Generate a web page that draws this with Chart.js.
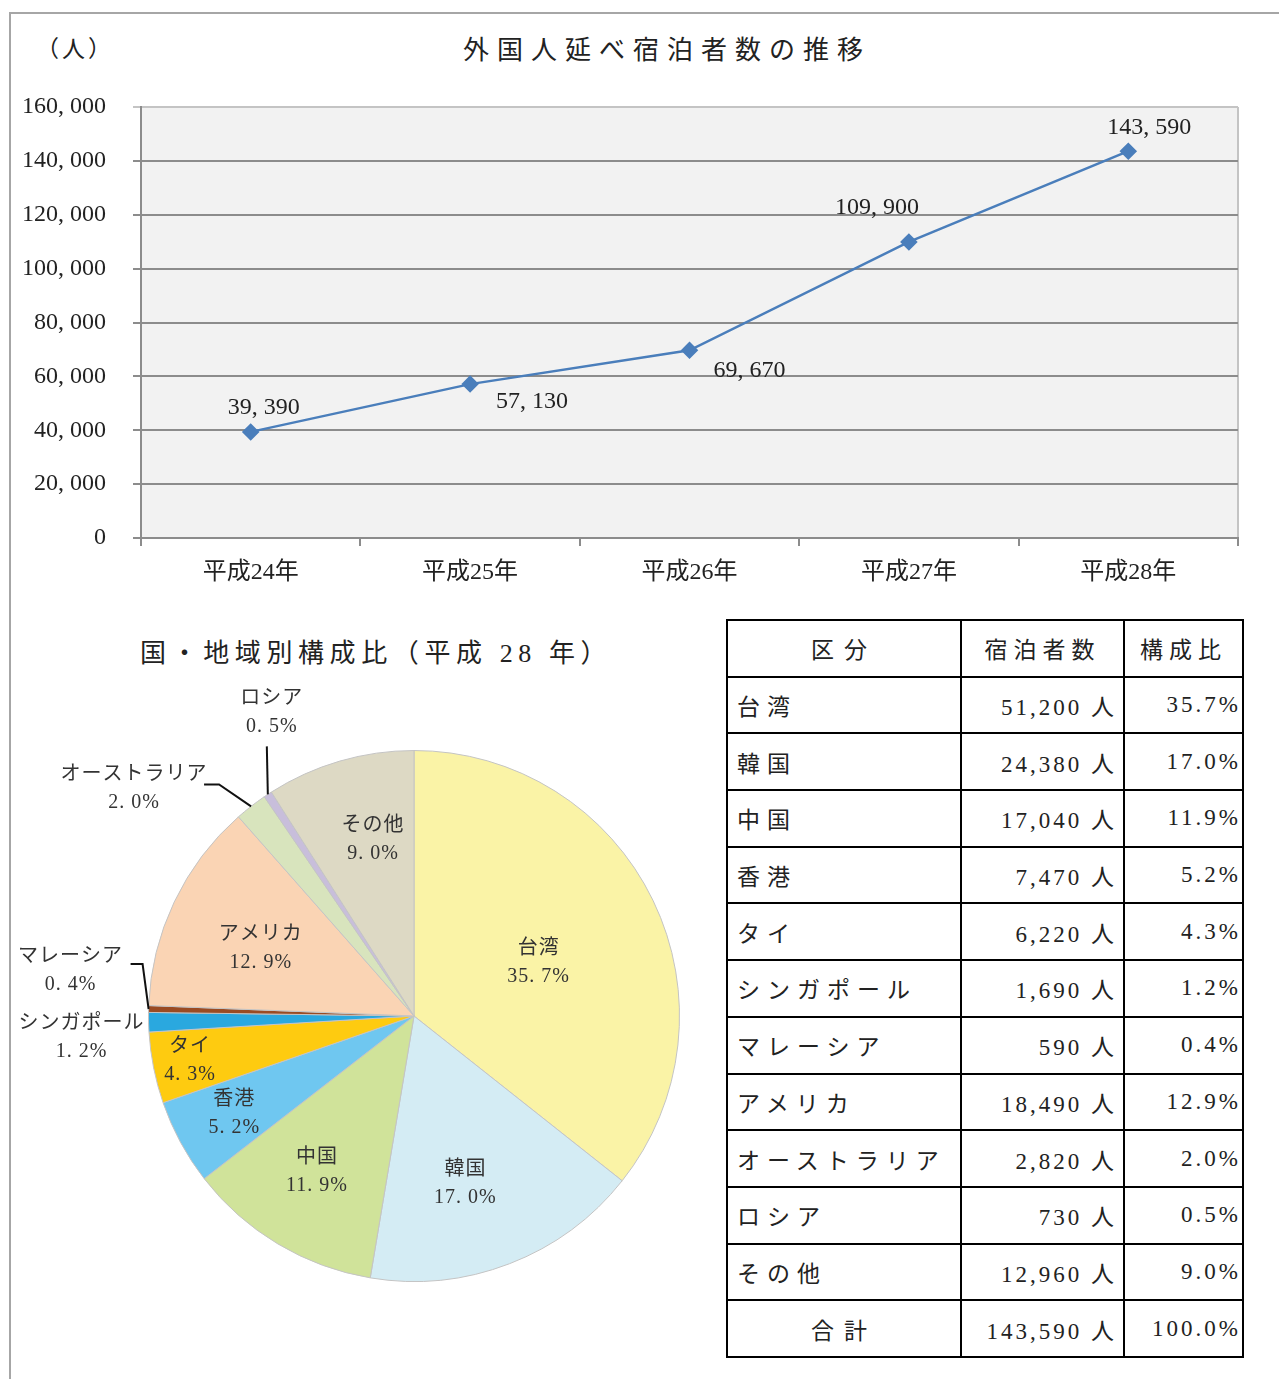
<!DOCTYPE html>
<html lang="ja">
<head>
<meta charset="utf-8">
<script src="https://cdn.jsdelivr.net/npm/chart.js@4.4.1/dist/chart.umd.min.js"></script>
<style>
  body { margin: 0; background: #fff; }
  #page {
    position: relative; width: 1279px; height: 1379px; overflow: hidden;
    font-family: 'Liberation Serif', 'Noto Sans CJK JP', serif; color: #222;
  }
  #frame {
    position: absolute; left: 9px; top: 12px; right: -4px; bottom: -4px;
    border-top: 2px solid #a6a6a6; border-left: 2px solid #a6a6a6;
  }
  .txt { position: absolute; white-space: nowrap; line-height: 1; }
  #lineTitle { left: 463px; top: 38px; font-size: 26px; letter-spacing: 8px; }
  #unit { left: 36px; top: 38px; font-size: 23px; letter-spacing: 3px; }
  #pieTitle { left: 140px; top: 641px; font-size: 26px; letter-spacing: 5.6px; }
  canvas { position: absolute; }
  #lineChart { left: 0; top: 0; }
  #pieChart { left: 0; top: 620px; }
  table {
    position: absolute; left: 726px; top: 619px; width: 516px;
    border-collapse: collapse; table-layout: fixed; font-size: 23px;
  }
  td { border: 2px solid #000; padding: 0; height: 54.7px; color: #222; }
  td.name { padding-left: 9px; letter-spacing: 7px; }
  td.num { text-align: right; padding-right: 6px; letter-spacing: 3px; }
  td.pct { text-align: right; padding-right: 1px; letter-spacing: 3px; }
  td.head { text-align: center; letter-spacing: 6px; }
</style>
</head>
<body>
<div id="page">
  <div id="frame"></div>
  <div class="txt" id="unit">（人）</div>
  <div class="txt" id="lineTitle">外国人延べ宿泊者数の推移</div>
  <canvas id="lineChart" width="1279" height="600"></canvas>
  <div class="txt" id="pieTitle">国・地域別構成比（平成 28 年）</div>
  <canvas id="pieChart" width="720" height="759"></canvas>
  <table id="shareTable"></table>
</div>
<script>
// --- line chart data ---
const years = ['平成24年', '平成25年', '平成26年', '平成27年', '平成28年'];
const guests = [39390, 57130, 69670, 109900, 143590];
const yTicks = [0, 20000, 40000, 60000, 80000, 100000, 120000, 140000, 160000];

// --- pie / table data (平成28年) ---
const regions = ['台湾', '韓国', '中国', '香港', 'タイ', 'シンガポール', 'マレーシア', 'アメリカ', 'オーストラリア', 'ロシア', 'その他'];
const regionGuests = [51200, 24380, 17040, 7470, 6220, 1690, 590, 18490, 2820, 730, 12960];
const regionShares = ['35.7%', '17.0%', '11.9%', '5.2%', '4.3%', '1.2%', '0.4%', '12.9%', '2.0%', '0.5%', '9.0%'];
const totalGuests = 143590;
const totalShare = '100.0%';

const sliceColors = ['#faf3a6', '#d4ecf4', '#d0e39a', '#6fc7f0', '#fecb10', '#2aa8df', '#9a4b23', '#fad4b4', '#d8e4bd', '#c8bedb', '#ddd9c4'];

const numFont = "'Liberation Serif', 'Noto Sans CJK JP', serif";
const fmt = v => v.toLocaleString('en-US').replace(/,/g, ', ');

// line chart: plot background, right border, point labels
const labelOffsets = [[13, -24], [62, 18], [60, 20], [-32, -34], [21, -24]];
const linePlugin = {
  id: 'linePlugin',
  beforeDraw(chart) {
    const a = chart.chartArea, ctx = chart.ctx;
    ctx.save();
    ctx.fillStyle = '#f2f2f2';
    ctx.fillRect(a.left, a.top, a.right - a.left, a.bottom - a.top);
    ctx.strokeStyle = '#c4c4c4';
    ctx.lineWidth = 2;
    ctx.beginPath();
    ctx.moveTo(a.right, a.top);
    ctx.lineTo(a.right, a.bottom);
    ctx.stroke();
    ctx.restore();
  },
  afterDatasetsDraw(chart) {
    const ctx = chart.ctx;
    const meta = chart.getDatasetMeta(0);
    ctx.save();
    ctx.font = '24px ' + numFont;
    ctx.fillStyle = '#222';
    ctx.textAlign = 'center';
    ctx.textBaseline = 'middle';
    meta.data.forEach((pt, i) => {
      const off = labelOffsets[i];
      ctx.fillText(fmt(guests[i]), pt.x + off[0], pt.y + off[1]);
    });
    ctx.restore();
  }
};

new Chart(document.getElementById('lineChart'), {
  type: 'line',
  data: {
    labels: years,
    datasets: [{
      data: guests,
      borderColor: '#4a7ebb',
      backgroundColor: '#4a7ebb',
      borderWidth: 2.5,
      pointStyle: 'rectRot',
      pointRadius: 7,
      pointHoverRadius: 7,
      tension: 0
    }]
  },
  options: {
    responsive: false,
    animation: false,
    devicePixelRatio: 1,
    layout: { padding: { left: 0, right: 41, top: 107, bottom: 0 } },
    plugins: { legend: { display: false }, tooltip: { enabled: false } },
    scales: {
      x: {
        offset: true,
        afterFit: s => { s.height = 62; },
        grid: { offset: true, drawOnChartArea: false, drawTicks: true, tickLength: 8, color: '#8c8c8c', lineWidth: 2 },
        border: { display: true, color: '#8c8c8c', width: 2 },
        ticks: { font: { size: 24, family: numFont }, color: '#222', padding: 12 }
      },
      y: {
        min: 0, max: 160000,
        afterFit: s => { s.width = 141; },
        afterBuildTicks: s => { s.ticks = yTicks.map(v => ({ value: v })); },
        grid: {
          color: c => c.tick && c.tick.value === 160000 ? '#c4c4c4' : '#8c8c8c',
          lineWidth: 2, tickLength: 8
        },
        border: { display: true, color: '#8c8c8c', width: 2 },
        ticks: { font: { size: 24, family: numFont }, color: '#222', padding: 27, callback: v => fmt(v) }
      }
    }
  },
  plugins: [linePlugin]
});

// pie chart: labels inside (radius fraction, angle nudge) or outside with leader lines
const insideLabel = [[0.51, 0.05], [0.66, 0.07], [0.69, 0.02], [0.77, 0], [0.86, 0], null, null, [0.63, -0.03], null, null, [0.68, 0.055]];
const callouts = {
  5: { dx: -67, dy: 16, line: [] },
  6: { dx: -78, dy: -38, line: [[-6, -45], [-18, -45]] },
  8: { dx: -117, dy: -18, line: [[-32, -22], [-47, -22]] },
  9: { dx: 4, dy: -82, line: [[-1, -48]] }
};
const piePlugin = {
  id: 'piePlugin',
  afterDatasetsDraw(chart) {
    const ctx = chart.ctx;
    const arcs = chart.getDatasetMeta(0).data;
    ctx.save();
    ctx.font = '20px ' + numFont;
    ctx.fillStyle = '#333';
    ctx.textAlign = 'center';
    ctx.textBaseline = 'middle';
    if ('letterSpacing' in ctx) ctx.letterSpacing = '1px';
    arcs.forEach((arc, i) => {
      const p = arc.getProps(['x', 'y', 'startAngle', 'endAngle', 'outerRadius']);
      const mid = (p.startAngle + p.endAngle) / 2;
      let lx, ly;
      if (insideLabel[i] !== null) {
        const r = p.outerRadius * insideLabel[i][0];
        const a = mid + insideLabel[i][1];
        lx = p.x + Math.cos(a) * r;
        ly = p.y + Math.sin(a) * r;
      } else {
        const ex = p.x + Math.cos(mid) * p.outerRadius;
        const ey = p.y + Math.sin(mid) * p.outerRadius;
        const c = callouts[i];
        if (c.line.length) {
          ctx.strokeStyle = '#111';
          ctx.lineWidth = 2;
          ctx.beginPath();
          ctx.moveTo(ex, ey);
          c.line.forEach(q => ctx.lineTo(ex + q[0], ey + q[1]));
          ctx.stroke();
        }
        lx = ex + c.dx;
        ly = ey + c.dy;
      }
      ctx.fillText(regions[i], lx, ly - 14);
      ctx.fillText(regionShares[i].replace('.', '. '), lx, ly + 14);
    });
    ctx.restore();
  }
};

new Chart(document.getElementById('pieChart'), {
  type: 'pie',
  data: {
    labels: regions,
    datasets: [{
      data: regionGuests,
      backgroundColor: sliceColors,
      borderColor: '#c4c4c4',
      borderWidth: 1
    }]
  },
  options: {
    responsive: false,
    animation: false,
    devicePixelRatio: 1,
    layout: { padding: { left: 148, right: 40, top: 130, bottom: 97 } },
    plugins: { legend: { display: false }, tooltip: { enabled: false } }
  },
  plugins: [piePlugin]
});
</script>
<script>
// table built from the same arrays
const tbl = document.getElementById('shareTable');
const colgroup = '<colgroup><col style="width:234px"><col style="width:163px"><col style="width:119px"></colgroup>';
let html = colgroup + '<tr><td class="head" style="letter-spacing:10px">区分</td><td class="head">宿泊者数</td><td class="head">構成比</td></tr>';
regions.forEach((r, i) => {
  html += '<tr><td class="name">' + r + '</td><td class="num">' + regionGuests[i].toLocaleString('en-US') +
    ' 人</td><td class="pct">' + regionShares[i] + '</td></tr>';
});
html += '<tr><td class="head" style="letter-spacing:10px">合計</td><td class="num">' + totalGuests.toLocaleString('en-US') +
  ' 人</td><td class="pct">' + totalShare + '</td></tr>';
tbl.innerHTML = html;
</script>
</body>
</html>
